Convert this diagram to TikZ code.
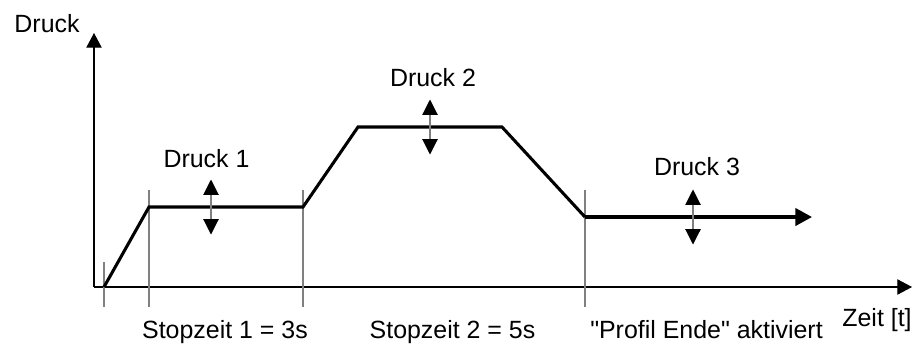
\documentclass[tikz,border=0pt]{standalone}
\usepackage{fontspec}
\setmainfont{Liberation Sans}[Ligatures=TeXOff]
\usetikzlibrary{arrows.meta}

\begin{document}
\begin{tikzpicture}[x=0.75pt,y=-0.75pt,
    achse/.style={line width=0.8pt,-{Triangle[length=11pt,width=11.5pt]}},
    profil/.style={line width=2.3pt,line join=miter},
    marke/.style={draw=gray,line width=0.8pt},
    wert/.style={draw=gray,line width=0.8pt,{Triangle[length=11.5pt,width=11.5pt,color=black]}-{Triangle[length=11.5pt,width=11.5pt,color=black]}},
    txt/.style={font=\fontsize{18.7}{22}\selectfont,inner sep=0pt,anchor=base}]
          \useasboundingbox (0,0) rectangle (917,344);
          \coordinate (o) at (94,287);
          \coordinate (ytip) at (94,33);
          \coordinate (xtip) at (912,287);
          \draw[achse] (o) -- (ytip);
          \draw[achse] (o) -- (xtip);
          \node[txt] (druck) at (47,32) {Druck};
          \node[txt] (zeit) at (877,326) {Zeit [t]};

          % Marken fuer die Zeitpunkte
          \foreach \x/\oben in {104/262, 149/190, 303/190, 585/190}
              \draw[marke] (\x,\oben) -- (\x,307);

          % Druckprofil
          \coordinate (p0) at (104,287);
          \coordinate (p1) at (149,207);
          \coordinate (p2) at (303,207);
          \coordinate (p3) at (358,127);
          \coordinate (p4) at (502,127);
          \coordinate (p5) at (585,217);
          \coordinate (p6) at (812,217);
          \draw[profil] (p0) -- (p1) -- (p2) -- (p3) -- (p4) -- (p5);
          \draw[profil,-{Triangle[length=12.5pt,width=13pt]}] (p5) -- (p6);

          % Druckwerte einstellbar
          \foreach \x/\y in {211/207, 430/127, 693/217}
              \draw[wert] (\x,{\y-27.5}) -- (\x,{\y+27.5});
          \node[txt] (d1) at (206.5,167) {Druck 1};
          \node[txt] (d2) at (433,86) {Druck 2};
          \node[txt] (d3) at (697,175) {Druck 3};

          % Beschriftung unten
          \node[txt] (s1) at (225,338) {Stopzeit 1 = 3s};
          \node[txt] (s2) at (452.5,338) {Stopzeit 2 = 5s};
          \node[txt] (ende) at (706.5,338) {"Profil Ende" aktiviert};
      \end{tikzpicture}
\end{document}
